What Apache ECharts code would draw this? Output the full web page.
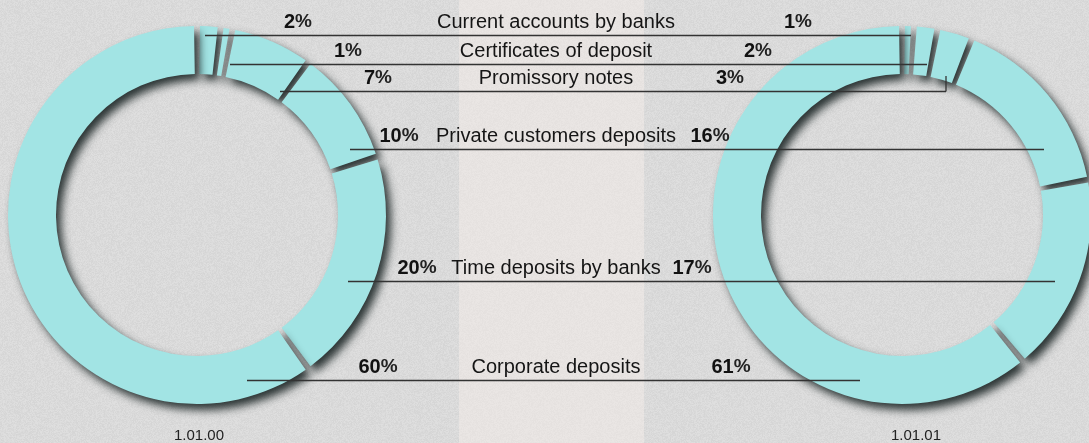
<!DOCTYPE html>
<html>
<head>
<meta charset="utf-8">
<script src="https://cdn.jsdelivr.net/npm/echarts@6/dist/echarts.min.js"></script>
<style>
  html, body { margin: 0; padding: 0; background: #d9d9d9; }
  #main { width: 1089px; height: 443px; }
</style>
</head>
<body>
<div id="main"></div>
<script>
// data
var categories = ['Current accounts by banks', 'Certificates of deposit', 'Promissory notes',
    'Private customers deposits', 'Time deposits by banks', 'Corporate deposits'];
var share2000 = [2, 1, 7, 10, 20, 60];
var share2001 = [1, 2, 3, 16, 17, 61];
var dates = ['1.01.00', '1.01.01'];

// layout of the label rows (pixels)
var rowY = [35, 64, 91, 149, 281, 380];
var lineStart = [205, 230, 280, 350, 348, 247];
var lineEnd = [911, 927, 946, 1044, 1055, 860];
var leftPctX = [298, 348, 378, 399, 417, 378];
var rightPctX = [798, 758, 730, 710, 692, 731];
var nameX = 556;

// paper-like background texture (deterministic)
function makeTexture() {
    var c = document.createElement('canvas');
    c.width = 200; c.height = 200;
    var ctx = c.getContext('2d');
    var img = ctx.createImageData(200, 200);
    var seed = 12345;
    for (var i = 0; i < 200 * 200; i++) {
        seed = (seed * 1103515245 + 12345) & 0x7fffffff;
        var n = ((seed >> 8) % 11) - 5;
        var v = 218 + n;
        img.data[i * 4] = v;
        img.data[i * 4 + 1] = v;
        img.data[i * 4 + 2] = v;
        img.data[i * 4 + 3] = 255;
    }
    ctx.putImageData(img, 0, 0);
    return c;
}

var dom = document.getElementById('main');
var chart = echarts.init(dom);

function pctText(v) {
    return '{b|' + v + '}{p|%}';
}
var pctRich = {
    b: { fontFamily: 'Liberation Sans', fontWeight: 'bold', fontSize: 20, fill: '#111', color: '#111' },
    p: { fontFamily: 'Liberation Sans', fontWeight: 'bold', fontSize: 19, fill: '#222', color: '#222' }
};

var graphics = [];
graphics.push({
    type: 'rect', z: 0, silent: true,
    shape: { x: 459, y: 0, width: 185, height: 443 },
    style: { fill: 'rgba(248,240,234,0.45)' }
});
for (var i = 0; i < categories.length; i++) {
    graphics.push({
        type: 'line', z: 100, silent: true,
        shape: { x1: lineStart[i], y1: rowY[i] + 0.5, x2: lineEnd[i], y2: rowY[i] + 0.5 },
        style: { stroke: '#333', lineWidth: 1.3 }
    });
    graphics.push({
        type: 'text', z: 100, silent: true,
        x: nameX, y: rowY[i] - 13,
        style: {
            text: categories[i], fill: '#151515', fontSize: 20,
            fontFamily: 'Liberation Sans', align: 'center', verticalAlign: 'middle'
        }
    });
    graphics.push({
        type: 'text', z: 100, silent: true,
        x: leftPctX[i], y: rowY[i] - 13,
        style: { text: pctText(share2000[i]), rich: pctRich, align: 'center', verticalAlign: 'middle' }
    });
    graphics.push({
        type: 'text', z: 100, silent: true,
        x: rightPctX[i], y: rowY[i] - 13,
        style: { text: pctText(share2001[i]), rich: pctRich, align: 'center', verticalAlign: 'middle' }
    });
}
// small tick at end of the promissory notes line
graphics.push({
    type: 'line', z: 100, silent: true,
    shape: { x1: 946, y1: 76, x2: 946, y2: 91.5 },
    style: { stroke: '#333', lineWidth: 1.3 }
});
graphics.push({
    type: 'text', z: 100, silent: true, x: 199, y: 436,
    style: { text: dates[0], fill: '#222', fontSize: 15, fontFamily: 'Liberation Sans', align: 'center', verticalAlign: 'middle' }
});
graphics.push({
    type: 'text', z: 100, silent: true, x: 916, y: 436,
    style: { text: dates[1], fill: '#222', fontSize: 15, fontFamily: 'Liberation Sans', align: 'center', verticalAlign: 'middle' }
});

function ringSeries(name, values, center) {
    return {
        name: name,
        type: 'pie',
        center: center,
        radius: [141, 189],
        startAngle: 90,
        clockwise: true,
        padAngle: 1.8,
        silent: true,
        animation: false,
        label: { show: false },
        labelLine: { show: false },
        itemStyle: {
            color: '#a2e4e4',
            shadowColor: 'rgba(25,35,35,0.9)',
            shadowBlur: 8,
            shadowOffsetX: 5,
            shadowOffsetY: 6
        },
        data: values.map(function (v, k) { return { name: categories[k], value: v }; })
    };
}

var option = {
    backgroundColor: { image: makeTexture(), repeat: 'repeat' },
    animation: false,
    graphic: graphics,
    series: [
        ringSeries(dates[0], share2000, [197, 215]),
        ringSeries(dates[1], share2001, [902, 215])
    ]
};
chart.setOption(option);
</script>
</body>
</html>
